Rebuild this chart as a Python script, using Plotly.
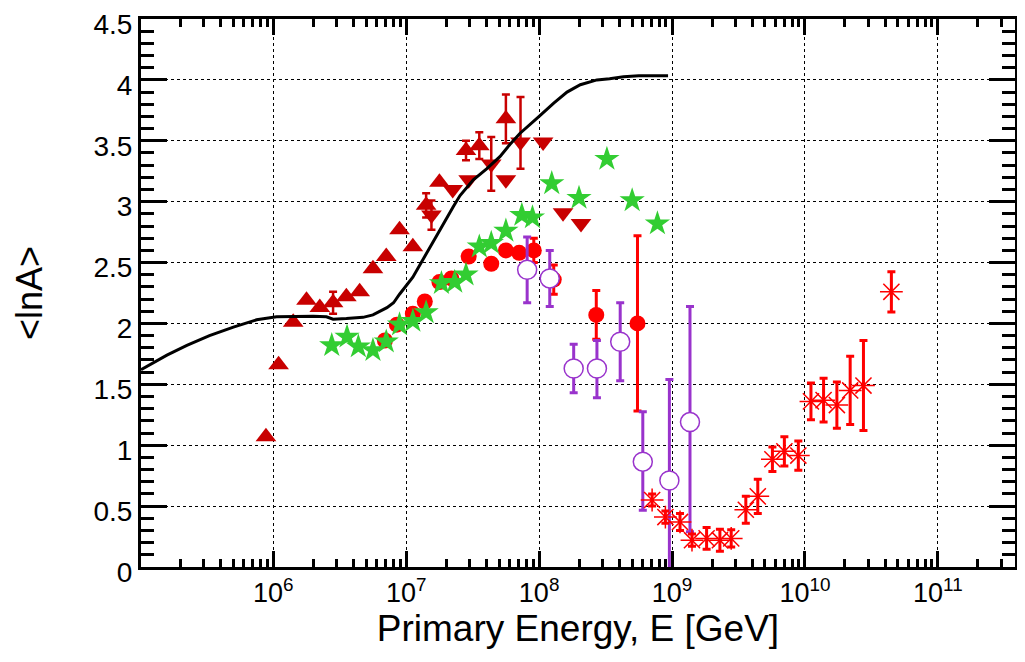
import numpy as np
import plotly.graph_objects as go

# ---------------- data (log10 of energy in GeV, <lnA>) ----------------
tri_up_logE = [5.945, 6.04, 6.15, 6.25, 6.35, 6.45, 6.55, 6.65, 6.75, 6.85, 6.95, 7.05, 7.15, 7.25, 7.45, 7.55, 7.75]
tri_up_val = [1.07, 1.66, 2.01, 2.19, 2.13, 2.17, 2.22, 2.26, 2.45, 2.55, 2.77, 2.63, 2.97, 3.16, 3.42, 3.46, 3.68]
tri_up_err = [0, 0, 0, 0, 0, 0.09, 0, 0, 0, 0, 0, 0, 0.10, 0, 0.08, 0.11, 0.20]

tri_dn_logE = [7.19, 7.35, 7.47, 7.64, 7.75, 7.86, 8.03, 8.18, 8.315]
tri_dn_val = [2.89, 3.10, 3.18, 3.31, 3.18, 3.49, 3.49, 2.91, 2.82]
tri_dn_errp = [0.12, 0, 0, 0.22, 0, 0.37, 0, 0, 0]
tri_dn_errm = [0.12, 0, 0, 0.22, 0, 0.22, 0, 0, 0]

circ_logE = [6.84, 6.93, 7.05, 7.14, 7.25, 7.34, 7.47, 7.64, 7.75, 7.85, 7.96, 8.11, 8.43, 8.74]
circ_val = [1.86, 1.99, 2.08, 2.18, 2.34, 2.37, 2.55, 2.49, 2.60, 2.58, 2.60, 2.36, 2.07, 2.00]
circ_err = [0, 0, 0, 0, 0, 0, 0, 0, 0, 0, 0.10, 0.12, 0.20, 0.72]

star_logE = [6.44, 6.555, 6.64, 6.75, 6.85, 6.95, 7.05, 7.15, 7.265, 7.365, 7.45, 7.55, 7.64, 7.75, 7.87, 7.95, 8.095, 8.30, 8.51, 8.70, 8.89]
star_val = [1.82, 1.89, 1.81, 1.78, 1.85, 1.99, 2.02, 2.09, 2.33, 2.34, 2.40, 2.63, 2.66, 2.76, 2.89, 2.87, 3.15, 3.03, 3.35, 3.01, 2.82]

open_logE = [7.91, 8.08, 8.26, 8.435, 8.61, 8.78, 8.98, 9.135]
open_val = [2.44, 2.37, 1.63, 1.63, 1.85, 0.865, 0.71, 1.19]
open_errp = [0.27, 0.23, 0.20, 0.23, 0.32, 0.41, 0.83, 0.95]
open_errm = [0.27, 0.23, 0.20, 0.24, 0.32, 0.40, 0.83, 0.90]

ast_logE = [8.85, 8.95, 9.06, 9.15, 9.26, 9.36, 9.445, 9.555, 9.645, 9.755, 9.845, 9.95, 10.045, 10.14, 10.24, 10.34, 10.44, 10.65]
ast_val = [0.55, 0.41, 0.37, 0.22, 0.235, 0.22, 0.235, 0.47, 0.58, 0.885, 0.95, 0.915, 1.36, 1.37, 1.33, 1.45, 1.49, 2.26]
ast_err = [0.05, 0.05, 0.07, 0.05, 0.09, 0.09, 0.07, 0.11, 0.14, 0.10, 0.12, 0.12, 0.15, 0.18, 0.19, 0.28, 0.37, 0.165]

model_logE = [5.005, 5.1, 5.2, 5.35, 5.52, 5.70, 5.875, 6.025, 6.15, 6.30, 6.40, 6.45, 6.55, 6.675, 6.75, 6.80, 6.855,
              6.905, 6.95, 7.05, 7.155, 7.255, 7.355, 7.405, 7.505, 7.605, 7.705, 7.78, 7.855, 7.93, 8.0, 8.11, 8.21,
              8.31, 8.435, 8.53, 8.635, 8.75, 8.97]
model_val = [1.62, 1.68, 1.74, 1.82, 1.90, 1.97, 2.03, 2.055, 2.06, 2.06, 2.055, 2.035, 2.04, 2.05, 2.07, 2.10, 2.13,
             2.17, 2.24, 2.38, 2.575, 2.77, 2.96, 3.05, 3.18, 3.27, 3.37, 3.47, 3.56, 3.63, 3.70, 3.81, 3.90,
             3.96, 4.00, 4.01, 4.025, 4.035, 4.035]

x_tick_exps = [6, 7, 8, 9, 10, 11]
x_tick_text = ["10<sup>6</sup>", "10<sup>7</sup>", "10<sup>8</sup>", "10<sup>9</sup>", "10<sup>10</sup>", "10<sup>11</sup>"]
y_tick_vals = [0, 0.5, 1, 1.5, 2, 2.5, 3, 3.5, 4, 4.5]
y_tick_text = ["0", "0.5", "1", "1.5", "2", "2.5", "3", "3.5", "4", "4.5"]

# ---------------- figure ----------------
E = lambda a: np.power(10.0, np.array(a))
DARKRED = "rgb(200,0,0)"
RED = "rgb(255,0,0)"
GREEN = "rgb(50,205,50)"
PURPLE = "rgb(153,51,204)"

fig = go.Figure()

fig.add_trace(go.Scatter(
    x=E(tri_up_logE), y=tri_up_val, mode="markers",
    marker=dict(symbol="triangle-up", size=18, color=DARKRED, line=dict(width=0)),
    error_y=dict(type="data", array=tri_up_err, color=DARKRED, thickness=2.5, width=4),
    showlegend=False))

fig.add_trace(go.Scatter(
    x=E(tri_dn_logE), y=tri_dn_val, mode="markers",
    marker=dict(symbol="triangle-down", size=18, color=DARKRED, line=dict(width=0)),
    error_y=dict(type="data", symmetric=False, array=tri_dn_errp, arrayminus=tri_dn_errm,
                 color=DARKRED, thickness=2.5, width=4),
    showlegend=False))

fig.add_trace(go.Scatter(
    x=E(circ_logE), y=circ_val, mode="markers",
    marker=dict(symbol="circle", size=16, color=RED, line=dict(width=0)),
    error_y=dict(type="data", array=circ_err, color=RED, thickness=3, width=4),
    showlegend=False))

fig.add_trace(go.Scatter(
    x=E(star_logE), y=star_val, mode="markers",
    marker=dict(symbol="star", size=19, color=GREEN, line=dict(width=0)),
    showlegend=False))

fig.add_trace(go.Scatter(
    x=E(open_logE), y=open_val, mode="markers",
    marker=dict(symbol="circle", size=19, color="white", line=dict(width=1.5, color=PURPLE)),
    error_y=dict(type="data", symmetric=False, array=open_errp, arrayminus=open_errm,
                 color=PURPLE, thickness=3, width=4),
    showlegend=False))

fig.add_trace(go.Scatter(
    x=E(ast_logE), y=ast_val, mode="markers",
    marker=dict(symbol="asterisk-open", size=19, color=RED, line=dict(width=1.5, color=RED)),
    error_y=dict(type="data", array=ast_err, color=RED, thickness=3, width=4),
    showlegend=False))

fig.add_trace(go.Scatter(
    x=E(model_logE), y=model_val, mode="lines",
    line=dict(color="black", width=3),
    showlegend=False))

x_minor = [k * 10.0 ** d for d in range(5, 12) for k in range(2, 10) if 5.005 < np.log10(k * 10.0 ** d) < 11.58]

FONT = "Liberation Sans, Arial, sans-serif"

# the page body has an 8px margin, so the figure is 8px smaller than the window
fig.update_layout(
    width=1017, height=654,
    margin=dict(l=133, r=10, t=11, b=95, autoexpand=False),
    paper_bgcolor="white", plot_bgcolor="white",
    font=dict(family=FONT, color="black"),
    xaxis=dict(
        type="log", range=[5.005, 11.58],
        tickmode="array", tickvals=E(x_tick_exps), ticktext=x_tick_text,
        ticks="inside", ticklen=16, tickwidth=2.5, tickcolor="black",
        showline=True, linewidth=3, linecolor="black", mirror="allticks",
        showgrid=True, gridcolor="black", gridwidth=1.2, griddash="dot",
        zeroline=False, ticklabeloverflow="allow",
        tickfont=dict(size=27, family=FONT),
        minor=dict(tickmode="array", tickvals=x_minor, ticks="inside", ticklen=8,
                   tickwidth=2.5, tickcolor="black", showgrid=False),
        title=dict(text="Primary Energy, E [GeV]", font=dict(size=37, family=FONT), standoff=6),
        automargin=False,
    ),
    yaxis=dict(
        range=[0, 4.5],
        tickmode="array", tickvals=y_tick_vals, ticktext=y_tick_text,
        ticks="inside", ticklen=26, tickwidth=2.5, tickcolor="black",
        showline=True, linewidth=3, linecolor="black", mirror="allticks",
        showgrid=True, gridcolor="black", gridwidth=1.2, griddash="dot",
        zeroline=False, ticklabeloverflow="allow", ticklabelshift=5,
        tickfont=dict(size=28, family=FONT),
        minor=dict(dtick=0.1, ticks="inside", ticklen=13, tickwidth=2.5,
                   tickcolor="black", showgrid=False),
        title=dict(text="&lt;lnA&gt;", font=dict(size=36, family=FONT), standoff=40),
        automargin=False,
    ),
)

fig.write_html("out.html")
